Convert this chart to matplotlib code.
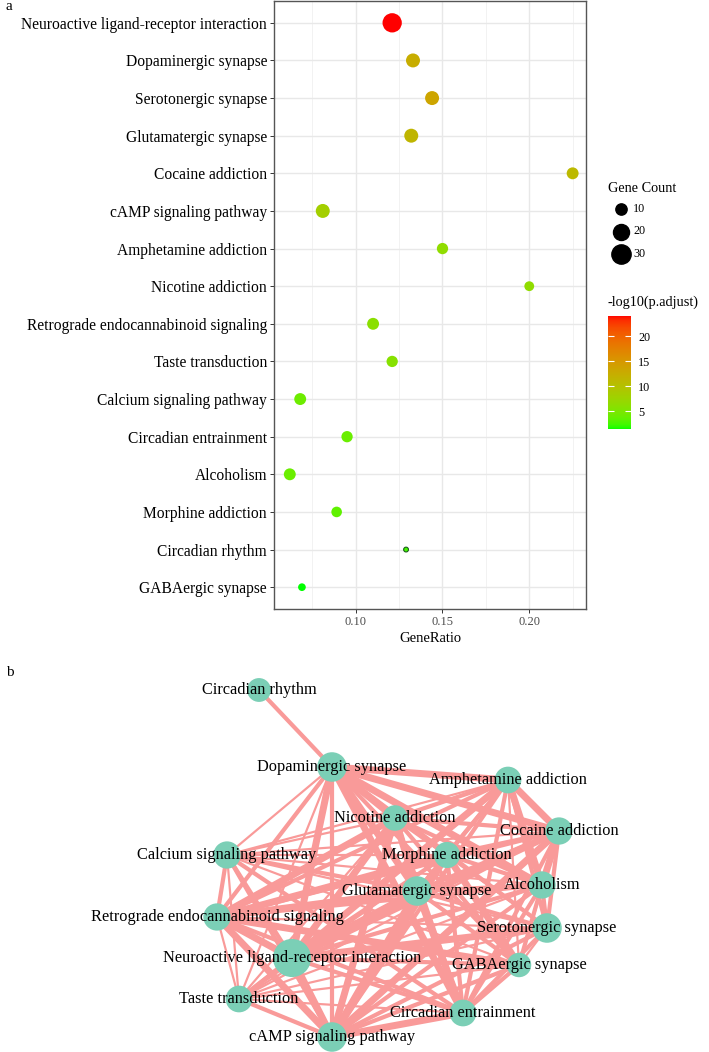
"""KEGG enrichment figure: (a) dot plot of enriched pathways, (b) pathway overlap network."""
import numpy as np
import matplotlib
matplotlib.use("Agg")
import matplotlib.pyplot as plt
from matplotlib.colors import ListedColormap, Normalize
from matplotlib.collections import LineCollection

plt.rcParams["font.family"] = ["Liberation Serif", "DejaVu Serif"]

# ---- panel a data (top to bottom) ----
terms = ["Neuroactive ligand-receptor interaction", "Dopaminergic synapse", "Serotonergic synapse",
         "Glutamatergic synapse", "Cocaine addiction", "cAMP signaling pathway",
         "Amphetamine addiction", "Nicotine addiction", "Retrograde endocannabinoid signaling",
         "Taste transduction", "Calcium signaling pathway", "Circadian entrainment",
         "Alcoholism", "Morphine addiction", "Circadian rhythm", "GABAergic synapse"]
gene_ratio = [0.121, 0.133, 0.144, 0.132, 0.225, 0.081, 0.150, 0.200, 0.110, 0.121,
              0.068, 0.095, 0.062, 0.089, 0.129, 0.069]
gene_count = [30, 15, 15, 15, 11, 15, 10, 8, 11, 10, 11, 10, 11, 9, 5, 6]
neg_log_padj = [24.0, 12.5, 13.5, 11.5, 11.0, 8.2, 6.5, 6.5, 6.0, 5.8, 4.2, 4.0, 4.0, 3.5, 2.5, 1.5]
size_breaks = [10, 20, 30]
color_breaks = [5, 10, 15, 20]
x_ticks = [0.10, 0.15, 0.20]

# ---- panel b data: node layout + overlap weights (upper triangle rows) ----
net_nodes = ["Circadian rhythm", "Dopaminergic synapse", "Amphetamine addiction", "Nicotine addiction",
             "Cocaine addiction", "Morphine addiction", "Calcium signaling pathway",
             "Glutamatergic synapse", "Alcoholism", "Retrograde endocannabinoid signaling",
             "Serotonergic synapse", "Neuroactive ligand-receptor interaction", "GABAergic synapse",
             "Taste transduction", "Circadian entrainment", "cAMP signaling pathway"]
node_x = [-1.41, -0.68, 1.08, -0.05, 1.59, 0.47, -1.73, 0.17, 1.42, -1.83, 1.47, -1.08, 1.19, -1.61, 0.63, -0.68]
node_y = [2.10, 1.33, 1.20, 0.82, 0.69, 0.45, 0.45, 0.09, 0.15, -0.17, -0.28, -0.58, -0.65, -0.99, -1.13, -1.37]
edge_rows = ["200000000000000", "33321332232132", "2321232231122", "221323132123",
             "21232231123", "1223123123", "212121122", "23232133", "2222122",
             "133123", "31122", "2223", "122", "12", "3"]


def rgb2lab(c):
    c = np.array(c, float)
    c = np.where(c > 0.04045, ((c + 0.055) / 1.055) ** 2.4, c / 12.92)
    M = np.array([[0.4124, 0.3576, 0.1805], [0.2126, 0.7152, 0.0722], [0.0193, 0.1192, 0.9505]])
    xyz = M @ c / np.array([0.95047, 1.0, 1.08883])
    f = np.where(xyz > 0.008856, np.cbrt(xyz), 7.787 * xyz + 16 / 116)
    return np.array([116 * f[1] - 16, 500 * (f[0] - f[1]), 200 * (f[1] - f[2])])


def lab2rgb(lab):
    L, a, b = lab
    fy = (L + 16) / 116
    f = np.array([fy + a / 500, fy, fy - b / 200])
    xyz = np.where(f ** 3 > 0.008856, f ** 3, (f - 16 / 116) / 7.787) * np.array([0.95047, 1.0, 1.08883])
    M = np.array([[3.2406, -1.5372, -0.4986], [-0.9689, 1.8758, 0.0415], [0.0557, -0.2040, 1.0570]])
    c = M @ xyz
    c = np.where(c > 0.0031308, 1.055 * np.abs(c) ** (1 / 2.4) - 0.055, 12.92 * c)
    return np.clip(c, 0, 1)


# green -> red gradient interpolated in Lab, like ggplot's scale_color_continuous
lo, hi = rgb2lab([0, 1, 0]), rgb2lab([1, 0, 0])
cmap = ListedColormap([lab2rgb(lo + (hi - lo) * t) for t in np.linspace(0, 1, 256)])
norm = Normalize(min(neg_log_padj), max(neg_log_padj))

cmin, cmax = min(gene_count), max(gene_count)


def dot_size(c):
    d_px = 4.8 + 14.5 * np.sqrt((np.asarray(c, float) - cmin) / (cmax - cmin))
    return (d_px * 0.72) ** 2


W, H = 709, 1052
fig = plt.figure(figsize=(W / 100, H / 100), dpi=100)

# ---------------- panel a ----------------
ax = fig.add_axes([274 / W, 1 - 609 / H, 312 / W, 608 / H])
n = len(terms)
ypos = np.arange(n, 0, -1)
edge = ["#1b5e1b" if c == cmin else "none" for c in gene_count]
ax.scatter(gene_ratio, ypos, s=dot_size(gene_count), c=neg_log_padj, cmap=cmap, norm=norm,
           edgecolors=edge, linewidths=0.8, zorder=3)
ax.set_xlim(0.0529, 0.2327)
ax.set_ylim(0.42, n + 0.58)
ax.set_yticks(ypos)
ax.set_yticklabels(terms, fontsize=11.2, color="black")
ax.set_xticks(x_ticks)
ax.set_xticklabels([f"{t:.2f}" for t in x_ticks], fontsize=9, color="#4D4D4D")
ax.set_xticks([0.075, 0.125, 0.175, 0.225], minor=True)
ax.tick_params(axis="both", which="major", length=3, width=0.7, color="#333333", pad=2)
ax.tick_params(axis="x", which="minor", length=0)
ax.grid(True, which="major", color="#E8E8E8", lw=1.0)
ax.grid(True, which="minor", axis="x", color="#F0F0F0", lw=0.6)
ax.set_axisbelow(True)
for sp in ax.spines.values():
    sp.set_color("#555555")
    sp.set_linewidth(1.0)
ax.set_xlabel("GeneRatio", fontsize=10.5, labelpad=3)

# legend (size) + colorbar
lg = fig.add_axes([0, 0, 1, 1], zorder=-1)
lg.set_xlim(0, W)
lg.set_ylim(H, 0)
lg.axis("off")
lg.text(608, 188, "Gene Count", fontsize=10.3, va="center", ha="left")
for i, b in enumerate(size_breaks):
    yy = 209 + 22.5 * i
    lg.scatter([621], [yy], s=dot_size([b]), color="black")
    lg.text(633, yy, str(b), fontsize=8.7, va="center", ha="left")
lg.text(608, 302, "-log10(p.adjust)", fontsize=10.3, va="center", ha="left")
lg.text(6, 7, "a", fontsize=11, va="center", ha="left")
lg.text(6, 673, "b", fontsize=11, va="center", ha="left")

cax = fig.add_axes([608 / W, 1 - 429 / H, 23 / W, 113 / H])
cb = fig.colorbar(plt.cm.ScalarMappable(norm=norm, cmap=cmap), cax=cax, ticks=color_breaks)
cb.outline.set_visible(False)
cax.tick_params(axis="y", left=True, right=True, labelleft=False, labelright=True, direction="in",
                length=4.5, width=0.8, color="white", labelsize=8.7, pad=5)

# ---------------- panel b ----------------
ay = fig.add_axes([0, 0, 1, 412 / H])
ay.set_xlim(-4.0, 3.09)
ay.set_ylim(-1.52, 2.60)
ay.axis("off")

width_px = {1: 2.2, 2: 4.2, 3: 7.0}
segs, lws = [], []
for i, row in enumerate(edge_rows):
    for k, ch in enumerate(row):
        w = int(ch)
        j = i + 1 + k
        if w:
            segs.append([(node_x[i], node_y[i]), (node_x[j], node_y[j])])
            lws.append(width_px[w] * 0.72)
ay.add_collection(LineCollection(segs, linewidths=lws, colors="#F99A99", capstyle="round", zorder=1))

count_of = dict(zip(terms, gene_count))
node_d = np.array([21 + 0.57 * count_of[t] for t in net_nodes])
ay.scatter(node_x, node_y, s=(node_d * 0.72) ** 2, color="#7BCFB6", edgecolors="none", zorder=2)
for t, x, y in zip(net_nodes, node_x, node_y):
    ay.text(x, y, t, fontsize=11.8, ha="center", va="center", zorder=3)

fig.savefig("out.png", dpi=100)
